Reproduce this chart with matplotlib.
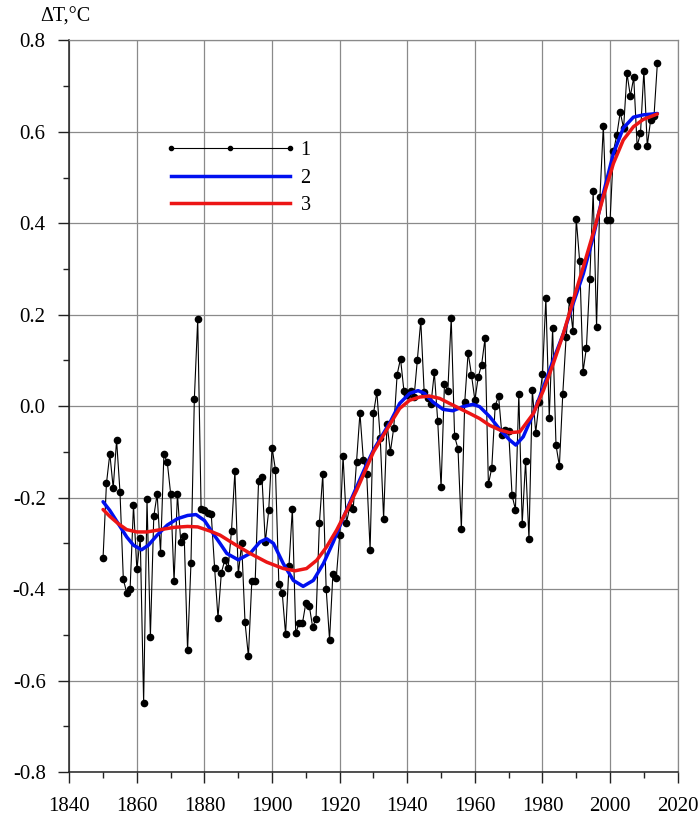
import numpy as np
import matplotlib
matplotlib.use("Agg")
import matplotlib.pyplot as plt
from matplotlib.lines import Line2D
from matplotlib.ticker import MultipleLocator, FormatStrFormatter

plt.rcParams['font.family'] = ['Liberation Serif', 'DejaVu Serif']

# Annual temperature anomalies (series 1)
anomaly = [
    -0.331, -0.169, -0.104, -0.179, -0.074, -0.187, -0.379, -0.408, -0.399, -0.217,  # 1850-1859
    -0.357, -0.289, -0.648, -0.204, -0.504, -0.241, -0.192, -0.320, -0.105, -0.123,  # 1860-1869
    -0.192, -0.383, -0.192, -0.298, -0.283, -0.534, -0.344, 0.015, 0.190, -0.224,    # 1870-1879
    -0.228, -0.233, -0.236, -0.354, -0.463, -0.364, -0.337, -0.354, -0.272, -0.142,  # 1880-1889
    -0.368, -0.300, -0.473, -0.547, -0.383, -0.383, -0.164, -0.155, -0.298, -0.228,  # 1890-1899
    -0.091, -0.139, -0.388, -0.408, -0.499, -0.350, -0.224, -0.497, -0.474, -0.474,  # 1900-1909
    -0.430, -0.436, -0.483, -0.465, -0.256, -0.149, -0.399, -0.511, -0.366, -0.375,  # 1910-1919
    -0.282, -0.109, -0.255, -0.220, -0.225, -0.121, -0.015, -0.117, -0.149, -0.314,  # 1920-1929
    -0.016, 0.031, -0.069, -0.246, -0.038, -0.100, -0.047, 0.069, 0.104, 0.034,      # 1930-1939
    0.025, 0.034, 0.019, 0.102, 0.187, 0.030, 0.017, 0.004, 0.074, -0.032,           # 1940-1949
    -0.177, 0.048, 0.034, 0.193, -0.066, -0.093, -0.268, 0.009, 0.117, 0.068,        # 1950-1959
    0.013, 0.064, 0.091, 0.148, -0.171, -0.135, 0.000, 0.023, -0.063, -0.053,        # 1960-1969
    -0.055, -0.195, -0.226, 0.026, -0.257, -0.120, -0.291, 0.035, -0.058, 0.009,     # 1970-1979
    0.070, 0.236, -0.025, 0.170, -0.085, -0.131, 0.026, 0.152, 0.233, 0.164,         # 1980-1989
    0.409, 0.317, 0.075, 0.128, 0.278, 0.470, 0.174, 0.457, 0.613, 0.407,            # 1990-1999
    0.407, 0.558, 0.593, 0.643, 0.608, 0.728, 0.678, 0.719, 0.569, 0.597,            # 2000-2009
    0.734, 0.569, 0.626, 0.635, 0.751,                                               # 2010-2014
]
years = np.arange(1850, 1850 + len(anomaly))

# Smoothed curve 2 (blue)
blue_years = [1850, 1852, 1854.5, 1857, 1859, 1861.4, 1863.4, 1866, 1869, 1872, 1875,
              1877.5, 1880, 1882.6, 1884.6, 1886.6, 1890, 1893.5, 1896.4, 1898.4, 1900.4,
              1903.3, 1906.3, 1909.2, 1912.2, 1915.2, 1918.1, 1921, 1925, 1927.5, 1930,
              1935, 1937.75, 1940.7, 1943.2, 1945.1, 1947.6, 1950.6, 1953.5, 1956.5,
              1959.4, 1961.4, 1964.4, 1967.4, 1970.3, 1972.1, 1974.3, 1977.3, 1980.3,
              1983.2, 1986.2, 1989.1, 1992.1, 1995, 1998, 2001, 2003.9, 2006.9, 2009.8, 2014]
blue_vals = [-0.209, -0.228, -0.257, -0.286, -0.304, -0.314, -0.304, -0.282, -0.260, -0.246,
             -0.239, -0.237, -0.250, -0.279, -0.300, -0.322, -0.336, -0.322, -0.297, -0.290,
             -0.300, -0.344, -0.381, -0.394, -0.381, -0.344, -0.297, -0.245, -0.177, -0.135,
             -0.096, -0.034, 0.006, 0.028, 0.034, 0.028, 0.009, -0.007, -0.010, -0.001,
             0.004, -0.001, -0.023, -0.051, -0.074, -0.085, -0.067, -0.016, 0.042,
             0.101, 0.159, 0.225, 0.290, 0.370, 0.465, 0.553, 0.608, 0.632, 0.637, 0.640]

# Smoothed curve 3 (red)
red_years = [1850, 1852, 1854.5, 1857, 1860, 1863, 1867, 1871, 1875, 1878, 1881.6, 1884.6,
             1888.5, 1893.5, 1898.4, 1903.3, 1906.8, 1910.2, 1913.2, 1916.1, 1919.1, 1922.1,
             1925, 1930, 1935, 1937.75, 1940.7, 1943.7, 1946.6, 1949.6, 1952.5, 1955.5,
             1958.5, 1961.4, 1964.4, 1967.4, 1970.3, 1973.3, 1977.3, 1980.3, 1983.2,
             1986.2, 1989.1, 1992.1, 1995, 1998, 2001, 2003.9, 2006.9, 2009.8, 2014]
red_vals = [-0.226, -0.241, -0.257, -0.270, -0.275, -0.275, -0.270, -0.265, -0.263, -0.264,
            -0.273, -0.282, -0.300, -0.322, -0.341, -0.355, -0.360, -0.355, -0.337, -0.308,
            -0.271, -0.228, -0.184, -0.100, -0.038, -0.005, 0.013, 0.020, 0.022, 0.017,
            0.006, -0.005, -0.016, -0.027, -0.042, -0.052, -0.058, -0.056, -0.016, 0.035,
            0.093, 0.159, 0.232, 0.305, 0.378, 0.458, 0.531, 0.582, 0.611, 0.627, 0.639]

legend_labels = ['1', '2', '3']

fig = plt.figure(figsize=(6.99, 8.18), dpi=100)
ax = fig.add_axes([0.0991, 0.0562, 0.8704, 0.8945])

ax.plot(years, anomaly, color='black', lw=0.8, marker='o', ms=4.5,
        markerfacecolor='black', markeredgecolor='black', zorder=3)
ax.plot(blue_years, blue_vals, color='#0010f0', lw=2.5, zorder=4,
        solid_capstyle='round', solid_joinstyle='round')
ax.plot(red_years, red_vals, color='#ec1515', lw=2.5, zorder=5,
        solid_capstyle='round', solid_joinstyle='round')

ax.set_xlim(1840, 2020)
ax.set_ylim(-0.8, 0.8)
ax.xaxis.set_major_locator(MultipleLocator(20))
ax.xaxis.set_minor_locator(MultipleLocator(10))
ax.yaxis.set_major_locator(MultipleLocator(0.2))
ax.yaxis.set_minor_locator(MultipleLocator(0.1))
ax.yaxis.set_major_formatter(FormatStrFormatter('%.1f'))

ax.grid(True, which='major', color='#8a8a8a', lw=0.9)
ax.set_axisbelow(True)

for s in ['left', 'bottom']:
    ax.spines[s].set_color('#222222')
    ax.spines[s].set_linewidth(1.1)
for s in ['top', 'right']:
    ax.spines[s].set_color('#8a8a8a')
    ax.spines[s].set_linewidth(0.9)

ax.tick_params(axis='both', which='major', direction='out', length=8, width=1.0,
               labelsize=15, color='#222222')
ax.tick_params(axis='x', which='major', pad=10)
ax.tick_params(axis='y', which='major', pad=9)
ax.tick_params(axis='both', which='minor', direction='out', length=4, width=1.0,
               color='#222222')

fig.text(40 / 699, 1 - 17 / 818, 'ΔT,°C', fontsize=14.5, ha='left', va='center')

handles = [
    Line2D([], [], color='black', lw=0.8, marker='o', ms=3),
    Line2D([], [], color='#0010f0', lw=2.5),
    Line2D([], [], color='#ec1515', lw=2.5),
]
leg = ax.legend(handles, legend_labels, loc='upper left', bbox_to_anchor=(0.127, 0.887),
                frameon=False, numpoints=3, handlelength=6.5, handletextpad=0.25,
                labelspacing=0.42, fontsize=14.5)

fig.savefig('out.png', dpi=100)
